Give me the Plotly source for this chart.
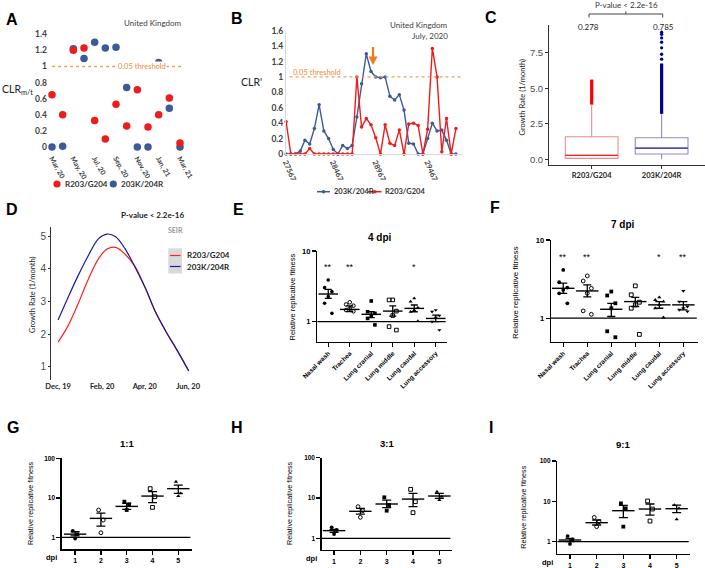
import numpy as np
import plotly.graph_objects as go

W, H = 705, 568
ARIAL = "Liberation Sans, Arial, sans-serif"
CALIBRI = "Lato, Open Sans, sans-serif"

# ---------------- Panel A data ----------------
A_months = ["Mar, 20", "Apr, 20", "May, 20", "Jun, 20", "Jul, 20", "Aug, 20", "Sep, 20",
            "Oct, 20", "Nov, 20", "Dec, 20", "Jan, 21", "Feb, 21", "Mar, 21"]
A_R203_G204 = [0.65, 0.40, 1.20, 1.23, 0.33, 0.10, 0.53, 0.26, 0.71, 0.25, 0.40, 0.61, 0.05]
A_203K_204R = [0.00, 0.01, 1.22, 1.10, 1.30, 1.23, 1.24, 0.74, 0.00, 0.00, 1.05, 0.48, 0.00]
A_tick_months = ["Mar, 20", "May, 20", "Jul, 20", "Sep, 20", "Nov, 20", "Jan, 21", "Mar, 21"]
A_yticks = [0, 0.2, 0.4, 0.6, 0.8, 1, 1.2, 1.4]
A_ytext = ["0", "0.2", "0.4", "0.6", "0.8", "1", "1.2", "1.4"]

# ---------------- Panel B data ----------------
B_203K_204R = [0, 0, 0, 0.04, 0.18, 0.13, 0.33, 0.64, 0.30, 0.20, 0.06, 0, 0.11, 0.07, 0.11,
               0.48, 0.91, 1.30, 1.07, 1.00, 0.99, 1.00, 0.75, 0.70, 0.77, 0.57, 0.14, 0.13,
               0, 0, 0.20, 0.40, 0.30, 0.31, 0.18, 0, 0]
B_R203_G204 = [0.42, 0, 0, 0, 0, 0.07, 0, 0, 0, 0, 0, 0, 0, 0, 0,
               1.00, 0.35, 0.46, 0.38, 0.21, 0, 0.38, 0.14, 0.11, 0.31, 0, 0.39, 0.40,
               0.37, 0, 0.32, 1.37, 1.00, 0.03, 0.46, 0, 0.33]
B_window = list(range(len(B_203K_204R)))
B_tick_index = [0, 10, 19, 30]
B_tick_text = ["27567", "28467", "28967", "29467"]
B_yticks = [0, 0.2, 0.4, 0.6, 0.8, 1, 1.2, 1.4, 1.6]
B_ytext = ["0", "0.2", "0.4", "0.6", "0.8", "1", "1.2", "1.4", "1.6"]

# ---------------- Panel C data ----------------
C_groups = ["R203/G204", "203K/204R"]
C_q1 = [0.07, 0.37]
C_median = [0.278, 0.785]
C_q3 = [1.59, 1.52]
C_lowerfence = [0.0, 0.0]
C_upperfence = [3.82, 3.17]
C_outlier_band_lo = [3.85, 3.20]
C_outlier_band_hi = [5.62, 6.75]
C_outliers_203K_sparse = [7.05, 7.40, 7.85, 8.25, 8.55, 8.80, 8.95]

# ---------------- Panel D data ----------------
D_dates = ["2019-12-01", "2019-12-15", "2019-12-29", "2020-01-13", "2020-01-27", "2020-02-08",
           "2020-02-20", "2020-03-04", "2020-03-18", "2020-04-02", "2020-04-16", "2020-05-01",
           "2020-05-15", "2020-06-02"]
D_203K_204R = [2.43, 3.12, 3.78, 4.42, 4.92, 5.06, 4.98, 4.62, 4.06, 3.40, 2.68, 2.07, 1.56, 0.87]
D_R203_G204 = [1.75, 2.25, 2.92, 3.70, 4.31, 4.60, 4.65, 4.45, 4.08, 3.40, 2.68, 2.07, 1.56, 0.87]

# ---------------- Panels E, F data ----------------
EF_tissues = ["Nasal wash", "Trachea", "Lung cranial", "Lung middle", "Lung caudal", "Lung accessory"]
E_points = [[3.88, 3.03, 2.66, 2.26, 1.82, 1.31],
            [1.88, 1.75, 1.68, 1.54, 1.46, 1.40],
            [1.96, 1.38, 1.31, 1.22, 1.11, 0.90],
            [2.03, 2.03, 1.41, 1.22, 0.85, 0.76],
            [2.14, 1.92, 1.58, 1.46, 1.38, 1.02],
            [1.46, 1.38, 1.22, 1.14, 1.00, 0.76]]
E_mean = [2.46, 1.49, 1.27, 1.41, 1.54, 1.11]
E_hi = [2.87, 1.67, 1.38, 1.67, 1.72, 1.24]
E_lo = [2.14, 1.39, 1.14, 1.20, 1.38, 1.00]
E_sig = ["**", "**", "", "", "*", ""]

F_points = [[4.14, 2.88, 2.46, 2.30, 2.08, 1.55],
            [3.47, 2.99, 2.41, 2.08, 1.24, 1.12],
            [2.19, 1.95, 1.55, 1.34, 0.68, 0.57],
            [2.59, 1.99, 1.60, 1.48, 1.34, 0.62],
            [1.85, 1.71, 1.63, 1.48, 1.34, 1.02],
            [2.23, 1.63, 1.41, 1.34, 1.28, 1.22]]
F_mean = [2.41, 2.23, 1.30, 1.63, 1.48, 1.48]
F_hi = [2.80, 2.66, 1.55, 1.85, 1.63, 1.63]
F_lo = [2.08, 1.87, 1.05, 1.41, 1.34, 1.28]
F_sig = ["**", "**", "", "", "*", "**"]

# ---------------- Panels G, H, I data ----------------
GHI_dpi = [1, 2, 3, 4, 5]
G_points = [[1.47, 1.21, 0.94], [4.93, 2.75, 1.31], [8.0, 6.85, 4.93], [17.1, 10.7, 5.75], [25.6, 13.0, 11.1]]
G_mean = [1.21, 3.03, 6.09, 11.1, 17.1]
G_hi = [1.39, 4.10, 7.25, 14.3, 21.1]
G_lo = [1.10, 1.93, 5.11, 7.54, 13.0]

H_points = [[1.87, 1.61, 1.28], [6.1, 4.85, 3.32], [10.4, 6.7, 4.85], [16.4, 8.1, 4.33], [14.3, 10.8, 8.9]]
H_mean = [1.55, 4.67, 7.1, 9.4, 11.2]
H_hi = [1.67, 5.54, 8.9, 13.0, 13.0]
H_lo = [1.41, 4.0, 5.76, 6.1, 9.8]

I_points = [[1.38, 1.14, 0.88], [4.0, 3.13, 2.36], [8.9, 6.7, 2.36], [10.2, 6.45, 3.25], [8.1, 6.7, 3.58]]
I_mean = [1.10, 2.96, 5.87, 6.45, 6.58]
I_hi = [1.21, 3.45, 7.95, 8.6, 8.1]
I_lo = [1.0, 2.59, 3.94, 4.58, 5.24]

# ---------------- styles ----------------
RED = "#ee1c1c"
BLUE = "#3c5a9a"
ORANGE = "#f4a05a"
ORANGE_TXT = "#ef8a3a"
ARROW = "#f07a1e"
BOX_RED = "#f28a8a"
BOX_RED_MED = "#e8262b"
BOX_BLUE = "#8d8dca"
BOX_BLUE_MED = "#3535a0"
NAVY = "#00008b"
GG_AXIS = "#333333"
GG_TICK = "#4d4d4d"


def px(x):
    return x / W


def py(y):
    return 1 - y / H


def dx(a, b):
    return [a / W, b / W]


def dy(top, bottom):
    return [1 - bottom / H, 1 - top / H]


annotations = []
shapes = []


def text(x, y, s, size=9, color="#222222", weight="normal", xanchor="center", yanchor="middle",
         angle=0, family=ARIAL, bg=None):
    d = dict(x=px(x), y=py(y), xref="paper", yref="paper", text=s, showarrow=False,
             xanchor=xanchor, yanchor=yanchor, textangle=angle,
             font=dict(size=size, color=color, family=family, weight=weight))
    if bg:
        d["bgcolor"] = bg
    annotations.append(d)


def pline(x0, y0, x1, y1, color, width=1, dash=None):
    ln = dict(color=color, width=width)
    if dash:
        ln["dash"] = dash
    shapes.append(dict(type="line", xref="paper", yref="paper", x0=px(x0), y0=py(y0),
                       x1=px(x1), y1=py(y1), line=ln))


def pcircle(cx, cy, r, color):
    shapes.append(dict(type="circle", xref="paper", yref="paper", x0=px(cx - r), x1=px(cx + r),
                       y0=py(cy + r), y1=py(cy - r), fillcolor=color, line=dict(color=color, width=0)))


fig = go.Figure()
layout = {}

# ================= Panel A =================
fig.add_trace(go.Scatter(x=A_months, y=A_203K_204R, mode="markers", xaxis="x", yaxis="y",
                         marker=dict(size=7.5, color=BLUE), cliponaxis=False, showlegend=False))
fig.add_trace(go.Scatter(x=A_months, y=A_R203_G204, mode="markers", xaxis="x", yaxis="y",
                         marker=dict(size=7.5, color=RED), cliponaxis=False, showlegend=False))
layout["xaxis"] = dict(domain=dx(48, 184), anchor="y", type="category", categoryarray=A_months,
                       range=[-0.375, 12.375], tickvals=A_tick_months, ticktext=A_tick_months,
                       tickangle=60, showline=False, showgrid=False, zeroline=False, ticks="",
                       ticklabelstandoff=0,
                       tickfont=dict(size=7, color="#404040", family=CALIBRI, weight="bold"))
layout["yaxis"] = dict(domain=dy(30, 152), anchor="x", range=[-0.062, 1.453], tickvals=A_yticks,
                       ticktext=A_ytext, showline=False, showgrid=False, zeroline=False, ticks="",
                       tickfont=dict(size=8.5, color="#404040", family=CALIBRI, weight="bold"))
shapes.append(dict(type="line", xref="x domain", yref="y", x0=0.03, x1=1.0, y0=1, y1=1,
                   line=dict(color=ORANGE, width=1.3, dash="dot")))
annotations.append(dict(x=px(117), y=1, xref="paper", yref="y", text="0.05 threshold", showarrow=False,
                        bgcolor="white", borderpad=0,
                        font=dict(size=7.5, color=ORANGE_TXT, family=CALIBRI)))
text(153, 23, "United Kingdom", size=8, color="#404040", family=CALIBRI)
text(17, 90, "CLR<sub>m/t</sub>", size=10.5, color="#222222", family=CALIBRI)
pcircle(57, 184, 3.6, RED)
text(63, 184, "R203/G204", size=8, color="#333333", family=CALIBRI, weight="bold", xanchor="left")
pcircle(113.3, 184, 3.6, BLUE)
text(119, 184, "203K/204R", size=8, color="#333333", family=CALIBRI, weight="bold", xanchor="left")

# ================= Panel B =================
fig.add_trace(go.Scatter(x=B_window, y=B_203K_204R, mode="lines+markers", xaxis="x2", yaxis="y2",
                         line=dict(color=BLUE, width=1.4), marker=dict(size=3.5, color=BLUE),
                         cliponaxis=False, showlegend=False))
fig.add_trace(go.Scatter(x=B_window, y=B_R203_G204, mode="lines+markers", xaxis="x2", yaxis="y2",
                         line=dict(color=RED, width=1.4), marker=dict(size=3.5, color=RED),
                         cliponaxis=False, showlegend=False))
layout["xaxis2"] = dict(domain=dx(286, 463), anchor="y2", range=[-0.02, 37.5], tickvals=B_tick_index,
                        ticktext=B_tick_text, tickangle=66, showline=True, linecolor="#d9d9d9",
                        showgrid=False, zeroline=False, ticks="",
                        tickfont=dict(size=7.5, color="#404040", family=CALIBRI, weight="bold"))
layout["yaxis2"] = dict(domain=dy(30.7, 154), anchor="x2", range=[0, 1.6], tickvals=B_yticks,
                        ticktext=B_ytext, showline=True, linecolor="#d9d9d9", showgrid=False,
                        zeroline=False, ticks="",
                        tickfont=dict(size=8.5, color="#404040", family=CALIBRI, weight="bold"))
shapes.append(dict(type="line", xref="x2 domain", yref="y2", x0=0.02, x1=1.0, y0=1, y1=1,
                   line=dict(color=ORANGE, width=1.3, dash="dot")))
text(291, 72, "0.05 threshold", size=7.5, color=ORANGE_TXT, family=CALIBRI, xanchor="left")
text(450, 25, "United Kingdom", size=8, color="#404040", family=CALIBRI, xanchor="right")
text(450, 35.5, "July, 2020", size=8, color="#404040", family=CALIBRI, xanchor="right")
text(251, 82, "CLR'", size=10.5, color="#222222", family=CALIBRI)
# orange arrow marking the peak window
pline(373, 47, 373, 58, ARROW, 2.2)
shapes.append(dict(type="path", xref="paper", yref="paper",
                   path=f"M {px(368.5)} {py(56.5)} L {px(377.5)} {py(56.5)} L {px(373)} {py(65)} Z",
                   fillcolor=ARROW, line=dict(color=ARROW, width=0)))
pline(317, 191.7, 330, 191.7, BLUE, 1.5)
pcircle(323.5, 191.7, 1.8, BLUE)
text(332, 191.7, "203K/204R", size=7.5, color="#333333", family=CALIBRI, weight="bold", xanchor="left")
pline(368, 191.7, 381.5, 191.7, RED, 1.5)
pcircle(374.7, 191.7, 1.8, RED)
text(383, 191.7, "R203/G204", size=7.5, color="#333333", family=CALIBRI, weight="bold", xanchor="left")

# ================= Panel C =================
C_pos = [1, 2]
C_width = 0.754
box_cols = [BOX_RED, BOX_BLUE]
med_cols = [BOX_RED_MED, BOX_BLUE_MED]
out_cols = ["#ff0000", NAVY]
for i in range(2):
    fig.add_trace(go.Box(x=[C_pos[i]], q1=[C_q1[i]], median=[C_median[i]], q3=[C_q3[i]],
                         lowerfence=[C_lowerfence[i]], upperfence=[C_upperfence[i]],
                         xaxis="x3", yaxis="y3", width=C_width, fillcolor="white",
                         line=dict(color=box_cols[i], width=1.1), whiskerwidth=0,
                         boxpoints=False, showlegend=False, hoverinfo="skip"))
    fig.add_trace(go.Scatter(x=[C_pos[i] - C_width / 2, C_pos[i] + C_width / 2],
                             y=[C_median[i], C_median[i]], mode="lines", xaxis="x3", yaxis="y3",
                             line=dict(color=med_cols[i], width=1.3), showlegend=False))
    fig.add_trace(go.Scatter(x=[C_pos[i], C_pos[i]], y=[C_outlier_band_lo[i], C_outlier_band_hi[i]],
                             mode="lines", xaxis="x3", yaxis="y3",
                             line=dict(color=out_cols[i], width=3.2), showlegend=False))
fig.add_trace(go.Scatter(x=[C_pos[1]] * len(C_outliers_203K_sparse), y=C_outliers_203K_sparse,
                         mode="markers", xaxis="x3", yaxis="y3",
                         marker=dict(size=3.3, color=NAVY), showlegend=False))
layout["xaxis3"] = dict(domain=dx(549, 705), anchor="y3", range=[0.39, 2.62], tickvals=C_pos,
                        ticktext=C_groups, showline=True, linecolor=GG_AXIS, linewidth=1,
                        ticks="outside", ticklen=3, tickcolor=GG_AXIS, showgrid=False, zeroline=False,
                        tickfont=dict(size=7.5, color="#222222", family=CALIBRI, weight="bold"))
layout["yaxis3"] = dict(domain=dy(25, 165), anchor="x3", range=[-0.4, 9.46], tickvals=[0, 2.5, 5, 7.5],
                        ticktext=["0.0", "2.5", "5.0", "7.5"], showline=True, linecolor=GG_AXIS,
                        linewidth=1, ticks="outside", ticklen=3, tickcolor=GG_AXIS, showgrid=False,
                        zeroline=False, tickfont=dict(size=9.5, color=GG_TICK, family=ARIAL))
text(521.5, 97, "Growth Rate (1/month)", size=7.5, color="#222222", family=CALIBRI, angle=-90)
text(588, 27, "0.278", size=8, color="#222222", family=CALIBRI)
text(663, 27, "0.785", size=8, color="#222222", family=CALIBRI)
text(626, 4.5, "P-value < 2.2e-16", size=8, color="#333333", family=CALIBRI)
pline(589, 17.5, 589, 14, "#444444", 1)
pline(589, 14, 662.7, 14, "#444444", 1)
pline(662.7, 14, 662.7, 17.5, "#444444", 1)
pline(625.8, 14, 625.8, 11.5, "#444444", 1)

# ================= Panel D =================
fig.add_trace(go.Scatter(x=D_dates, y=D_R203_G204, mode="lines", xaxis="x4", yaxis="y4",
                         line=dict(color="#ff2020", width=1.2, shape="spline"), showlegend=False))
fig.add_trace(go.Scatter(x=D_dates, y=D_203K_204R, mode="lines", xaxis="x4", yaxis="y4",
                         line=dict(color="#1a1a9a", width=1.2, shape="spline"), showlegend=False))
layout["xaxis4"] = dict(domain=dx(51, 198), anchor="y4", type="date",
                        range=["2019-11-21", "2020-06-15"],
                        tickvals=["2019-12-01", "2020-02-01", "2020-04-01", "2020-06-01"],
                        ticktext=["Dec, 19", "Feb, 20", "Apr, 20", "Jun, 20"], showline=False,
                        showgrid=False, zeroline=False, ticks="",
                        tickfont=dict(size=7.5, color="#222222", family=CALIBRI, weight="bold"))
layout["yaxis4"] = dict(domain=dy(226.7, 380), anchor="x4", range=[0.593, 5.285], tickvals=[1, 2, 3, 4, 5],
                        showline=True, linecolor=GG_AXIS, linewidth=1, ticks="outside", ticklen=2,
                        tickcolor=GG_AXIS, showgrid=False, zeroline=False,
                        tickfont=dict(size=10, color=GG_TICK, family=ARIAL))
text(32, 295, "Growth Rate (1/month)", size=7.5, color="#222222", family=CALIBRI, angle=-90)
text(152, 215, "P-value < 2.2e-16", size=8, color="#222222", family=CALIBRI, weight="bold")
text(175, 230, "SEIR", size=7, color="#9a9a9a", family=CALIBRI, weight="bold")
shapes.append(dict(type="rect", xref="paper", yref="paper", x0=px(168.3), x1=px(182), y0=py(273.5),
                   y1=py(248.3), fillcolor="#d9d9d9", line=dict(width=0)))
pline(170, 255.5, 180.5, 255.5, "#ff2020", 1.2)
pline(170, 266.5, 180.5, 266.5, "#1a1a9a", 1.2)
text(185, 255.5, "R203/G204", size=8, color="#222222", family=CALIBRI, weight="bold", xanchor="left")
text(185, 266.5, "203K/204R", size=8, color="#222222", family=CALIBRI, weight="bold", xanchor="left")

# ================= dot-plot helper (E-I) =================
OFFSETS = {6: [0.0, -1.0, 1.0, 0.0, -1.0, 1.0], 3: [-1.0, 1.0, 0.0]}


def dot_panel(xa, ya, cats, points, mean, hi, lo, symbols, jit, msize, mlen, cap):
    for i, pts in enumerate(points):
        offs = OFFSETS[len(pts)]
        xs = [cats[i] + o * jit for o in offs]
        sym = symbols[i]
        is_open = sym.endswith("open")
        fig.add_trace(go.Scatter(x=xs, y=pts, mode="markers", xaxis=xa, yaxis=ya, cliponaxis=False,
                                 marker=dict(symbol=sym, size=msize, color="black",
                                             line=dict(color="black", width=1 if is_open else 0)),
                                 showlegend=False))
    fig.add_trace(go.Scatter(x=cats, y=mean, mode="markers", xaxis=xa, yaxis=ya, cliponaxis=False,
                             marker=dict(symbol="line-ew", size=mlen, color="black",
                                         line=dict(color="black", width=1.4)),
                             error_y=dict(type="data", symmetric=False,
                                          array=[h - m for h, m in zip(hi, mean)],
                                          arrayminus=[m - l for m, l in zip(mean, lo)],
                                          color="black", thickness=1.3, width=cap),
                             showlegend=False))
    xr = layout[xa.replace("x", "xaxis")]["range"]
    fig.add_trace(go.Scatter(x=[xr[0], xr[1] - 0.05], y=[1, 1],
                             mode="lines", xaxis=xa, yaxis=ya, line=dict(color="black", width=1.3),
                             showlegend=False, cliponaxis=False))


def gp_axes(n, xdom, ydom, xrange, yrange, tickvals, ticktext, yticks, tickangle, xfs, yfs):
    layout[f"xaxis{n}"] = dict(domain=xdom, anchor=f"y{n}", range=xrange, tickvals=tickvals,
                               ticktext=ticktext, tickangle=tickangle, showline=True, linecolor="black",
                               linewidth=1.4, ticks="outside", ticklen=4, tickwidth=1.3, tickcolor="black",
                               showgrid=False, zeroline=False,
                               tickfont=dict(size=xfs, color="black", family=ARIAL, weight="bold"))
    layout[f"yaxis{n}"] = dict(domain=ydom, anchor=f"x{n}", type="log", range=yrange, tickvals=yticks,
                               ticktext=[str(v) for v in yticks], showline=True, linecolor="black",
                               linewidth=1.4, ticks="outside", ticklen=4, tickwidth=1.3, tickcolor="black",
                               showgrid=False, zeroline=False,
                               tickfont=dict(size=yfs, color="black", family=ARIAL, weight="bold"))


EF_symbols = ["circle", "circle-open", "square", "square-open", "triangle-up", "triangle-down"]
GHI_symbols = ["circle", "circle-open", "square", "square-open", "triangle-up"]
EF_cats = list(range(len(EF_tissues)))

# ================= Panel E =================
gp_axes(5, dx(317.3, 446.7), dy(251, 341.7), [-0.51, 5.51], [np.log10(0.52), 1], EF_cats, EF_tissues,
        [1, 10], -45, 6.5, 7.5)
dot_panel("x5", "y5", EF_cats, E_points, E_mean, E_hi, E_lo, EF_symbols, 0.17, 3.6, 14, 3.5)
for i, s in enumerate(E_sig):
    if s:
        annotations.append(dict(x=EF_cats[i], y=np.log10(6.0), xref="x5", yref="y5", text=s,
                                showarrow=False, font=dict(size=9, color="black", family=ARIAL)))
text(380, 237.5, "4 dpi", size=10, color="black", weight="bold")
text(291.5, 297, "Relative replicative fitness", size=7.5, color="black", angle=-90)

# ================= Panel F =================
gp_axes(6, dx(551, 698), dy(240, 341.7), [-0.51, 5.61], [np.log10(0.5), 1], EF_cats, EF_tissues,
        [1, 10], -45, 6.5, 7.5)
dot_panel("x6", "y6", EF_cats, F_points, F_mean, F_hi, F_lo, EF_symbols, 0.17, 3.8, 16, 4)
for i, s in enumerate(F_sig):
    if s:
        annotations.append(dict(x=EF_cats[i], y=np.log10(6.1), xref="x6", yref="y6", text=s,
                                showarrow=False, font=dict(size=9, color="black", family=ARIAL)))
text(623, 225, "7 dpi", size=10, color="black", weight="bold")
text(515, 293, "Relative replicative fitness", size=8, color="black", angle=-90)

# ================= Panels G, H, I =================
panels_ghi = [
    (7, dx(61.7, 191.7), dy(458.3, 549.3), [0.48, 5.52], [-0.30, 2], G_points, G_mean, G_hi, G_lo,
     "1:1", (126.7, 443.5), (30, 504), (51.5, 557.5)),
    (8, dx(321.7, 451.7), dy(457.7, 550), [0.53, 5.47], [-0.29, 2], H_points, H_mean, H_hi, H_lo,
     "3:1", (386.7, 443.5), (289, 504), (311.5, 558)),
    (9, dx(557.3, 690), dy(461, 554), [0.524, 5.5], [-0.305, 2], I_points, I_mean, I_hi, I_lo,
     "9:1", (623.3, 444.5), (523.3, 507.5), (547.3, 562.5)),
]
for (n, xd, yd, xr, yr, pts, mn, hi, lo, title, tpos, ylpos, dpipos) in panels_ghi:
    gp_axes(n, xd, yd, xr, yr, GHI_dpi, [str(v) for v in GHI_dpi], [1, 10, 100], 0, 7, 6.5)
    dot_panel(f"x{n}", f"y{n}", GHI_dpi, pts, mn, hi, lo, GHI_symbols, 0.09, 3.8, 16, 4.5)
    text(tpos[0], tpos[1], title, size=9.5, color="black", weight="bold")
    text(ylpos[0], ylpos[1], "Relative replicative fitness", size=7.2, color="black", angle=-90)
    text(dpipos[0], dpipos[1], "dpi", size=7.5, color="black", weight="bold")

# ================= Panel letters =================
for L, (x, y) in {"A": (11.5, 20), "B": (236.5, 18.5), "C": (491, 17), "D": (11.5, 209),
                  "E": (238, 209), "F": (495, 207.5), "G": (12.5, 427), "H": (237, 427),
                  "I": (491.5, 427)}.items():
    text(x, y, L, size=16, color="black", weight="bold", family=ARIAL)

for k in layout:
    layout[k]["automargin"] = False

fig.update_layout(template="none", width=W, height=H, margin=dict(l=0, r=0, t=0, b=0, pad=0),
                  plot_bgcolor="white", paper_bgcolor="white", showlegend=False,
                  annotations=annotations, shapes=shapes, font=dict(family=ARIAL), **layout)
fig.write_html("out.html", config={"displayModeBar": False, "staticPlot": True},
               post_script="document.body.style.margin='0';"
                           "document.body.style.overflow='hidden';"
                           "document.documentElement.style.overflow='hidden';")
